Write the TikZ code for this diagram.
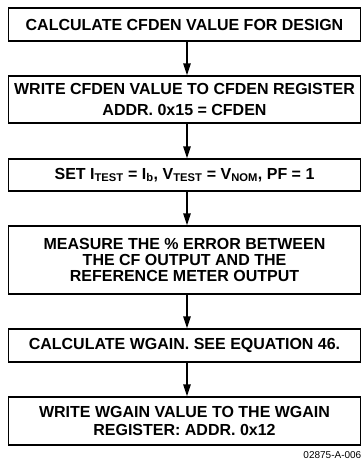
\documentclass[tikz,border=0pt]{standalone}
\usepackage{fontspec}
\setmainfont{Liberation Sans}
\usetikzlibrary{arrows.meta}

\begin{document}
\begin{tikzpicture}[x=1pt,y=-1pt,
  stepbox/.style={rectangle,draw,line width=1.3pt,minimum width=352pt,inner sep=0pt,
                  align=center,font=\fontsize{16}{16}\selectfont\bfseries},
  arr/.style={-{Triangle[length=12pt,width=7.5pt]},line width=1.3pt}]
  \useasboundingbox (0,0) rectangle (362,461);
  \node[stepbox,minimum height=33pt] (calc) at (184.5,24.5) {CALCULATE CFDEN VALUE FOR DESIGN};
  \node[stepbox,minimum height=47pt,font=\fontsize{16}{21}\selectfont\bfseries] (wcf) at (184.5,99.5)
    {WRITE CFDEN VALUE TO CFDEN REGISTER\\ADDR. 0x15 = CFDEN};
  \node[stepbox,minimum height=32pt] (set) at (184.5,175)
    {SET I\textsubscript{TEST} = I\textsubscript{b}, V\textsubscript{TEST} = V\textsubscript{NOM}, PF = 1};
  \node[stepbox,minimum height=68pt] (meas) at (184.5,260)
    {MEASURE THE \% ERROR BETWEEN\\THE CF OUTPUT AND THE\\REFERENCE METER OUTPUT};
  \node[stepbox,minimum height=33pt] (wg) at (184.5,345.5) {CALCULATE WGAIN. SEE EQUATION 46.};
  \node[stepbox,minimum height=48pt,font=\fontsize{16}{17.5}\selectfont\bfseries] (wwg) at (184.5,421)
    {WRITE WGAIN VALUE TO THE WGAIN\\REGISTER: ADDR. 0x12};
  \node[anchor=east,font=\fontsize{10}{11}\selectfont,inner sep=0pt] (fig) at (361.5,455) {02875-A-006};
  \draw[arr] ([xshift=2.5pt]calc.south) -- ([xshift=2.5pt]wcf.north);
  \draw[arr] ([xshift=2.5pt]wcf.south) -- ([xshift=2.5pt]set.north);
  \draw[arr] ([xshift=2.5pt]set.south) -- ([xshift=2.5pt]meas.north);
  \draw[arr] ([xshift=2.5pt]meas.south) -- ([xshift=2.5pt]wg.north);
  \draw[arr] ([xshift=2.5pt]wg.south) -- ([xshift=2.5pt]wwg.north);
\end{tikzpicture}
\end{document}
